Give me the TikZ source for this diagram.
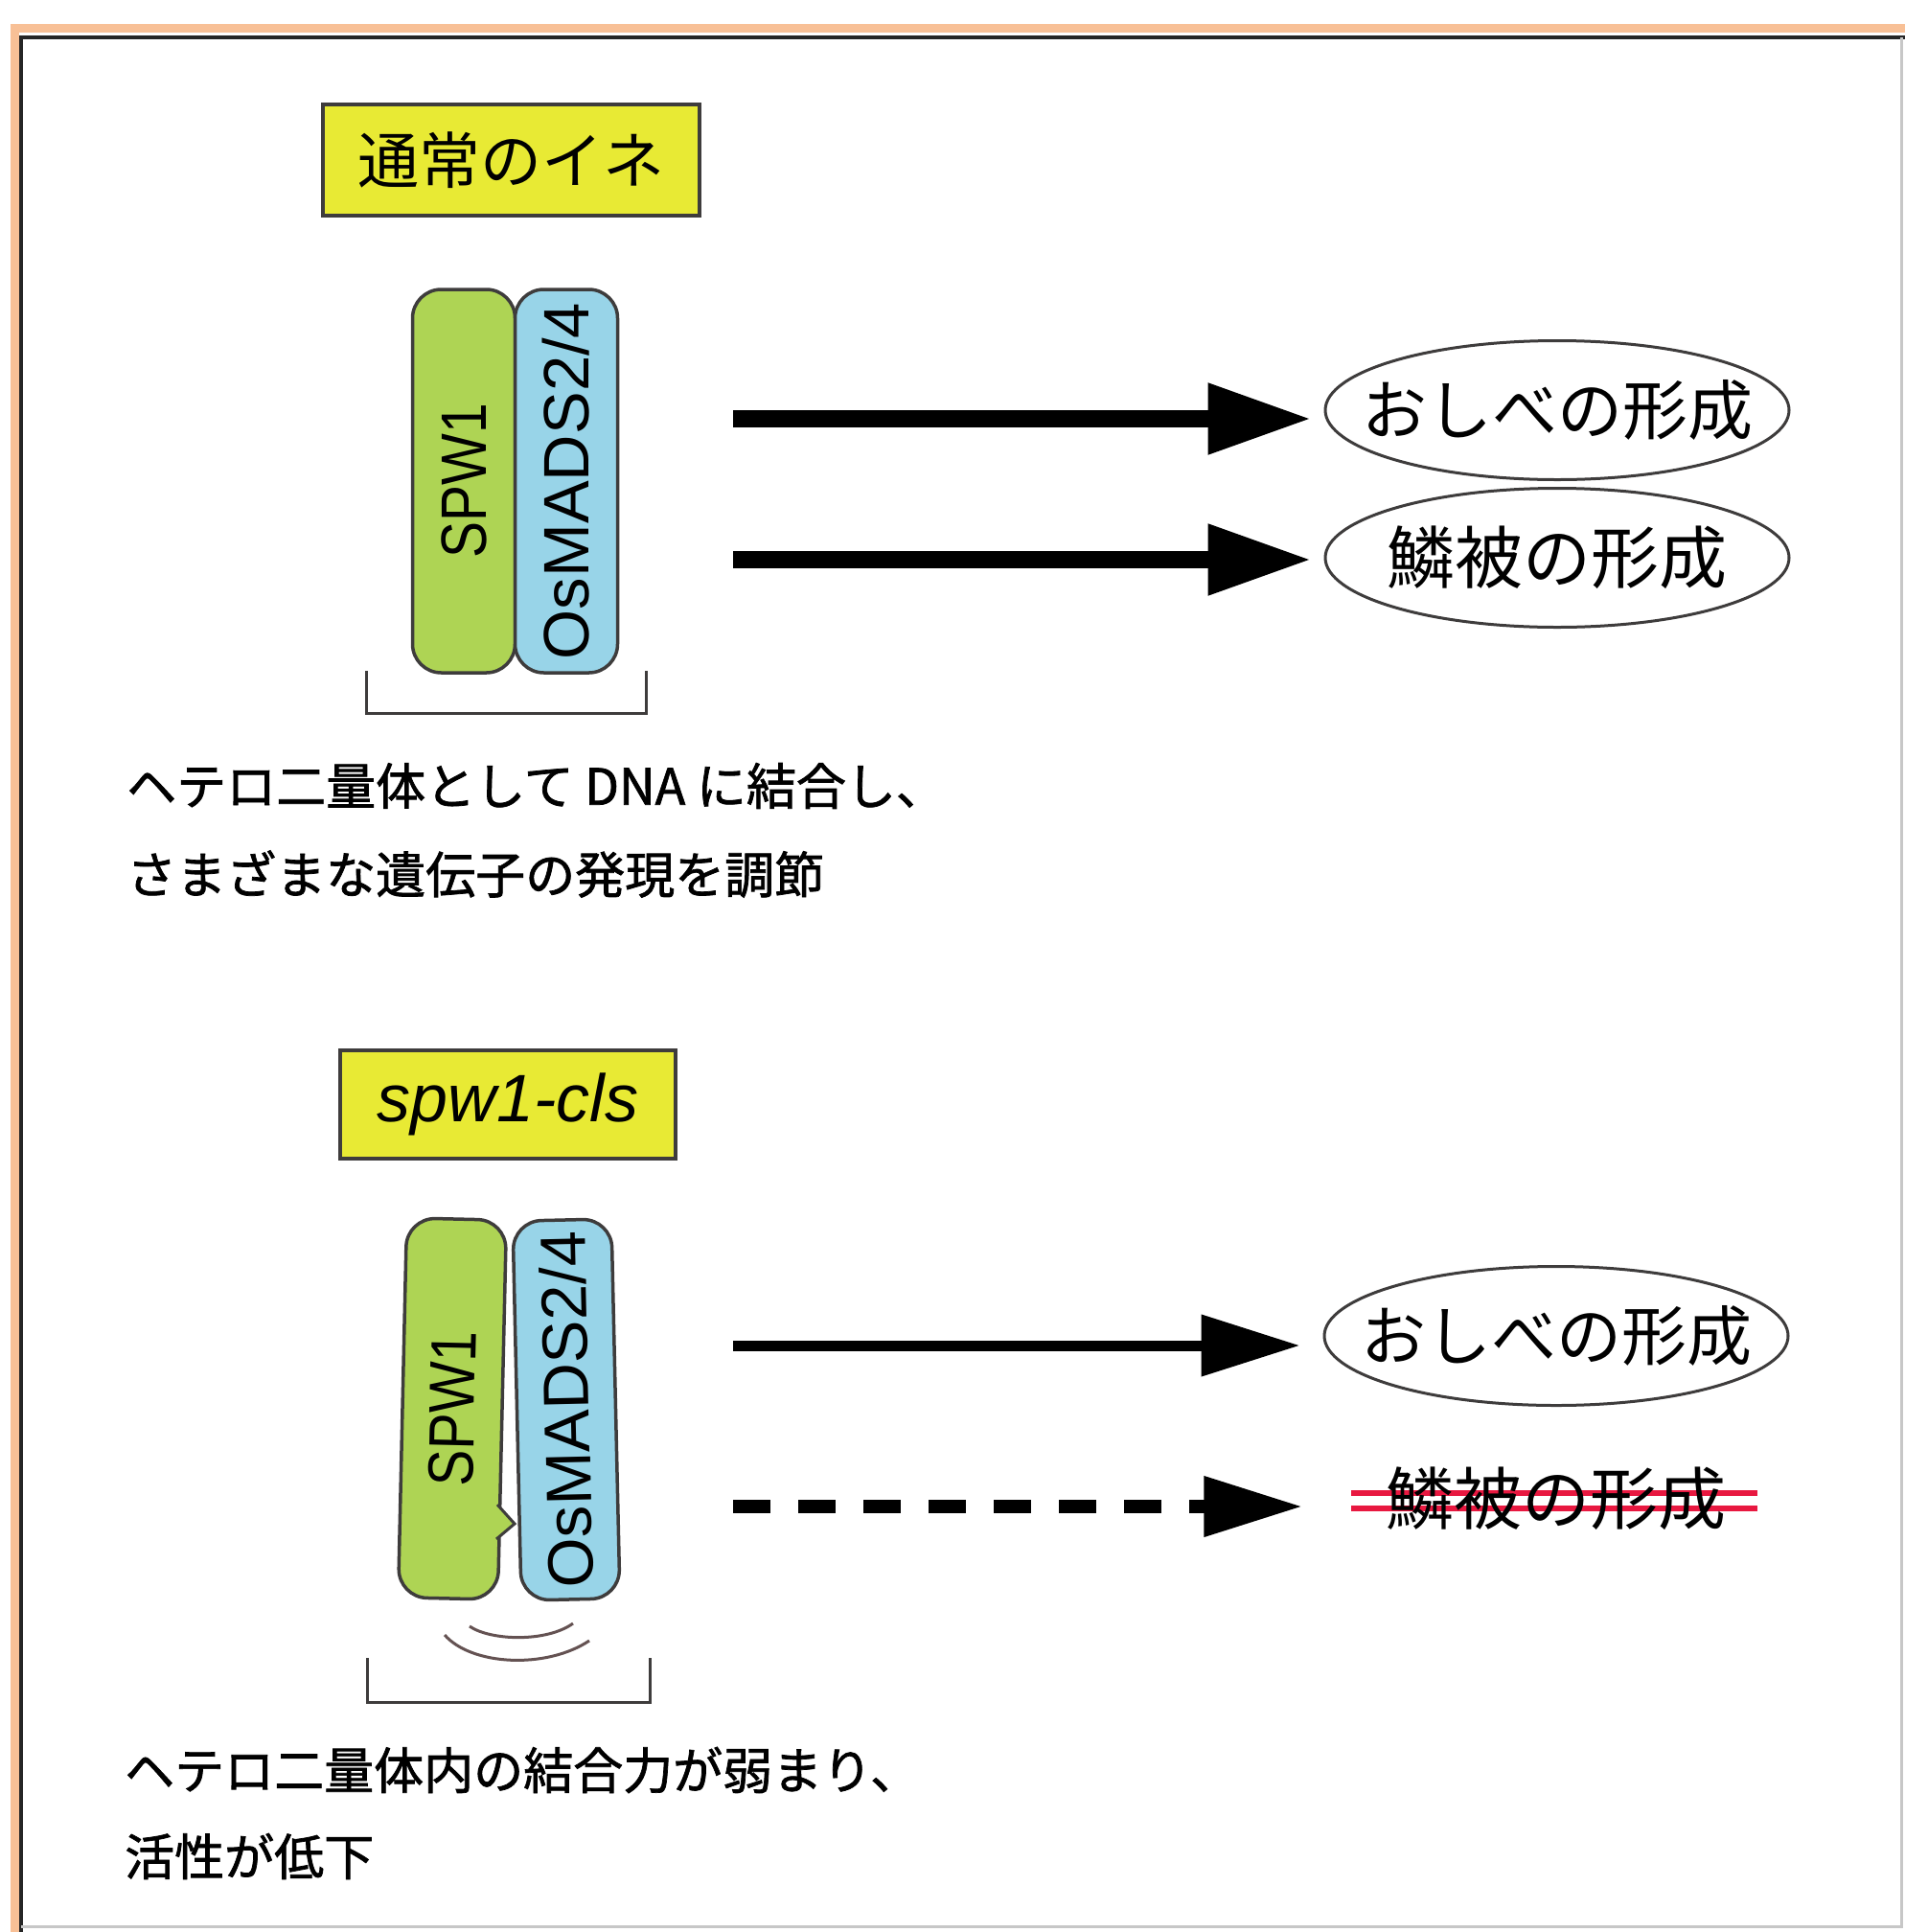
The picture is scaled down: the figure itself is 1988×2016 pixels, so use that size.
\documentclass[tikz,border=0pt]{standalone}
\usepackage{fontspec}
\usepackage{graphicx}
\setmainfont{Liberation Sans}
\newfontfamily\jp{Noto Sans CJK JP}
\newfontfamily\jpm{Noto Sans CJK JP}[FakeBold=1.4]
\usetikzlibrary{shapes.geometric,arrows.meta}
\definecolor{frameorange}{RGB}{248,192,150}
\definecolor{titleyellow}{RGB}{232,234,52}
\definecolor{spwgreen}{RGB}{174,212,84}
\definecolor{madsblue}{RGB}{152,212,232}
\definecolor{edgegray}{RGB}{62,60,60}
\definecolor{wavegray}{RGB}{100,82,82}
\definecolor{strikered}{RGB}{232,24,64}
\begin{document}
\begin{tikzpicture}[x=1pt,y=-1pt,
 titlebox/.style={draw=edgegray, line width=4pt, fill=titleyellow, inner sep=0pt},
 capsule/.style={draw=edgegray, line width=3.5pt, rounded corners=30pt, inner sep=0pt, rotate=90, font=\fontsize{67}{67}\selectfont},
 outcome/.style={ellipse, draw=edgegray, line width=3pt, minimum width=484pt, minimum height=145pt, inner sep=0pt, font=\jp\fontsize{68}{68}\selectfont},
 flowA/.style={line width=18pt, -{Triangle[length=108pt,width=70pt]}, shorten >=13pt},
 flowB/.style={line width=11pt, -{Triangle[length=103pt,width=62pt]}, shorten >=24pt},
 flowC/.style={line width=14pt, dash pattern=on 39pt off 29pt, -{Triangle[length=103pt,width=60pt]}, shorten >=87pt},
 bracket/.style={draw=edgegray, line width=3pt},
 wave/.style={draw=wavegray, line width=3pt},
 strike/.style={draw=strikered, line width=6pt},
 note/.style={anchor=west, inner sep=0pt, font=\jpm\fontsize{52}{52}\selectfont}
]
\useasboundingbox (0,0) rectangle (1988,2016);
% frame
\draw[frameorange, line width=9pt] (15.5,2016) -- (15.5,29) -- (1988,29);
\draw[black!85, line width=4pt] (22,2016) -- (22,39) -- (1988,39);
\draw[black!22, line width=3pt] (1984,39) -- (1984,2010) -- (22,2010);

% ---- upper panel ----
\node[titlebox, minimum width=393pt, minimum height=116pt, font=\jp\fontsize{64}{64}\selectfont] (t1) at (533,167) {通常のイネ};

\node[capsule, fill=spwgreen, minimum width=400pt, minimum height=107pt] (spwa) at (484,502) {\scalebox{0.85}[1]{SPW1}};
\node[capsule, fill=madsblue, minimum width=400pt, minimum height=107pt] (madsa) at (591,502) {OsMADS2/4};

\draw[bracket] (382,700) -- (382,744) -- (674,744) -- (674,700);

\node[note] (n1) at (132,820) {ヘテロ二量体として DNA に結合し、};
\node[note] (n2) at (132,912) {さまざまな遺伝子の発現を調節};

\node[outcome] (o1) at (1625,428) {\makebox[0pt]{おしべの形成}};
\node[outcome] (o2) at (1625,582) {\makebox[0pt]{\fontsize{71}{71}\selectfont 鱗被の形成}};

\coordinate (a1) at (765,437);
\coordinate (a2) at (765,584);
\draw[flowA] (a1) -- (a1 -| o1.west);
\draw[flowA] (a2) -- (a2 -| o2.west);

% ---- lower panel ----
\node[titlebox, minimum width=350pt, minimum height=113pt, font=\fontsize{70}{70}\selectfont\itshape] (t2) at (530,1152) {spw1-cls};

\node[capsule, fill=spwgreen, minimum width=396pt, minimum height=104pt, rotate=-1.3] (spwb) at (472,1470) {\scalebox{0.85}[1]{SPW1}};
\filldraw[fill=spwgreen, draw=edgegray, line width=3pt] (519,1570) -- (537,1590) -- (518,1606);
\node[capsule, fill=madsblue, minimum width=396pt, minimum height=103pt, rotate=1.3] (madsb) at (591,1471) {OsMADS2/4};

\draw[wave] (490,1697) .. controls (512,1712) and (570,1714) .. (598,1694);
\draw[wave] (464,1706) .. controls (492,1738) and (570,1742) .. (615,1712);

\draw[bracket] (383,1730) -- (383,1776) -- (678,1776) -- (678,1730);

\node[note] (n3) at (130,1847) {ヘテロ二量体内の結合力が弱まり、};
\node[note] (n4) at (130,1937) {活性が低下};

\node[outcome] (o3) at (1624,1394) {\makebox[0pt]{おしべの形成}};

\draw[strike] (1410,1558) -- (1834,1558);
\draw[strike] (1410,1574) -- (1834,1574);
\node[inner sep=0pt, font=\jp\fontsize{71}{71}\selectfont] (o4) at (1624,1564) {鱗被の形成};

\coordinate (a3) at (765,1404);
\coordinate (a4) at (765,1572);
\draw[flowB] (a3) -- (a3 -| o3.west);
\draw[flowC] (a4) -- (a4 -| o4.west);
\end{tikzpicture}
\end{document}
